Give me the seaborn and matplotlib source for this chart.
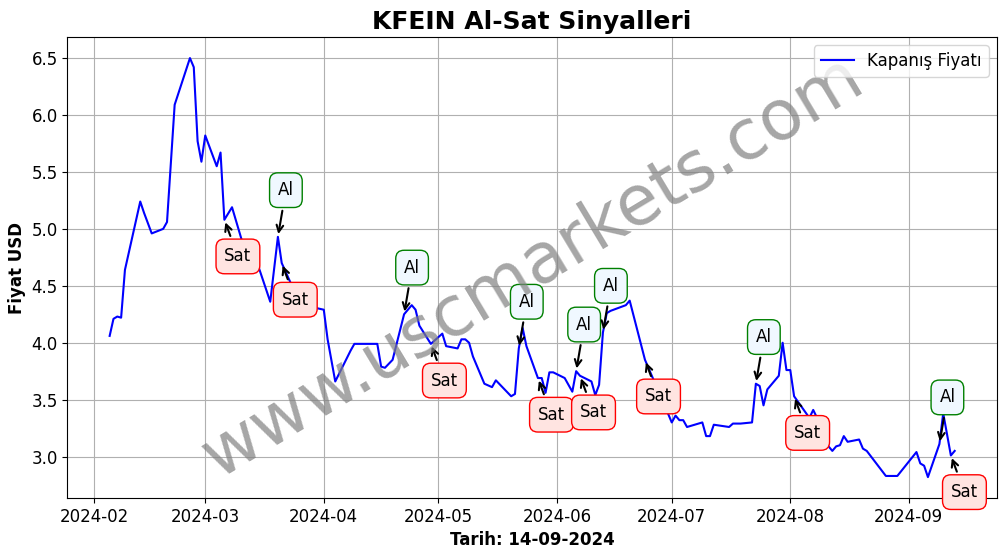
import pandas as pd
import matplotlib
matplotlib.use("Agg")
import matplotlib.pyplot as plt
import seaborn as sns

# Kapanis fiyatlari (grafikten okunan yaklasik degerler)
tarihler = [
    "2024-02-05", "2024-02-06", "2024-02-07", "2024-02-08", "2024-02-09",
    "2024-02-13", "2024-02-14", "2024-02-16", "2024-02-19", "2024-02-20",
    "2024-02-22", "2024-02-26", "2024-02-27", "2024-02-28", "2024-02-29",
    "2024-03-01", "2024-03-04", "2024-03-05", "2024-03-06", "2024-03-08",
    "2024-03-11", "2024-03-14", "2024-03-15", "2024-03-18", "2024-03-20",
    "2024-03-21", "2024-03-25", "2024-03-27", "2024-03-28", "2024-04-01",
    "2024-04-02", "2024-04-04", "2024-04-08", "2024-04-09", "2024-04-15",
    "2024-04-16", "2024-04-17", "2024-04-19", "2024-04-22", "2024-04-24",
    "2024-04-25", "2024-04-26", "2024-04-29", "2024-05-02", "2024-05-03",
    "2024-05-06", "2024-05-07", "2024-05-08", "2024-05-09", "2024-05-10",
    "2024-05-13", "2024-05-15", "2024-05-16", "2024-05-20", "2024-05-21",
    "2024-05-22", "2024-05-23", "2024-05-24", "2024-05-27", "2024-05-28",
    "2024-05-29", "2024-05-30", "2024-05-31", "2024-06-03", "2024-06-05",
    "2024-06-06", "2024-06-07", "2024-06-10", "2024-06-11", "2024-06-12",
    "2024-06-13", "2024-06-14", "2024-06-15", "2024-06-19", "2024-06-20",
    "2024-06-21", "2024-06-24", "2024-06-30", "2024-07-01", "2024-07-02",
    "2024-07-03", "2024-07-04", "2024-07-05", "2024-07-09", "2024-07-10",
    "2024-07-11", "2024-07-12", "2024-07-16", "2024-07-17", "2024-07-18",
    "2024-07-19", "2024-07-22", "2024-07-23", "2024-07-24", "2024-07-25",
    "2024-07-26", "2024-07-29", "2024-07-30", "2024-07-31", "2024-08-01",
    "2024-08-02", "2024-08-06", "2024-08-07", "2024-08-08", "2024-08-11",
    "2024-08-12", "2024-08-13", "2024-08-14", "2024-08-15", "2024-08-16",
    "2024-08-19", "2024-08-20", "2024-08-21", "2024-08-26", "2024-08-29",
    "2024-09-03", "2024-09-04", "2024-09-05", "2024-09-06", "2024-09-09",
    "2024-09-10", "2024-09-12", "2024-09-13",
]
fiyatlar = [
    4.06, 4.21, 4.23, 4.22, 4.64,
    5.24, 5.14, 4.96, 5.00, 5.06,
    6.09, 6.50, 6.42, 5.77, 5.59,
    5.82, 5.55, 5.67, 5.08, 5.19,
    4.85, 4.62, 4.66, 4.36, 4.93,
    4.70, 4.40, 4.24, 4.32, 4.29,
    4.03, 3.66, 3.93, 3.99, 3.99,
    3.79, 3.78, 3.85, 4.25, 4.33,
    4.29, 4.15, 3.99, 4.08, 3.97,
    3.95, 4.03, 4.03, 4.00, 3.88,
    3.64, 3.61, 3.67, 3.53, 3.55,
    3.95, 4.13, 3.97, 3.69, 3.69,
    3.56, 3.74, 3.74, 3.69, 3.57,
    3.75, 3.71, 3.66, 3.54, 3.63,
    4.09, 4.26, 4.28, 4.33, 4.37,
    4.24, 3.85, 3.38, 3.30, 3.36,
    3.32, 3.32, 3.26, 3.30, 3.18,
    3.18, 3.28, 3.26, 3.29, 3.29,
    3.29, 3.30, 3.64, 3.62, 3.45,
    3.59, 3.71, 4.00, 3.76, 3.76,
    3.53, 3.34, 3.41, 3.34, 3.09,
    3.05, 3.09, 3.10, 3.18, 3.13,
    3.15, 3.07, 3.05, 2.83, 2.83,
    3.04, 2.94, 2.92, 2.82, 3.11,
    3.38, 3.01, 3.05,
]

# Al / Sat sinyal tarihleri
al_tarihleri = ["2024-03-20", "2024-04-22", "2024-05-22", "2024-06-06",
                "2024-06-13", "2024-07-23", "2024-09-09"]
sat_tarihleri = ["2024-03-06", "2024-03-21", "2024-04-29", "2024-05-27",
                 "2024-06-07", "2024-06-24", "2024-08-02", "2024-09-12"]

df = pd.DataFrame({"Tarih": pd.to_datetime(tarihler), "Fiyat": fiyatlar})
fiyat_map = dict(zip(tarihler, fiyatlar))

fig, ax = plt.subplots(figsize=(10.06, 5.54), dpi=100)
fig.subplots_adjust(left=0.067, right=0.991, top=0.933, bottom=0.101)

sns.lineplot(data=df, x="Tarih", y="Fiyat", color="blue", linewidth=1.5,
             label="Kapanış Fiyatı", ax=ax)

for t in al_tarihleri:
    ax.annotate("Al", xy=(pd.Timestamp(t), fiyat_map[t]), xytext=(0, 30),
                textcoords="offset points", fontsize=12,
                bbox=dict(boxstyle="round,pad=0.5", fc="aliceblue", ec="green"),
                arrowprops=dict(arrowstyle="->", color="black", lw=1.5))

for t in sat_tarihleri:
    ax.annotate("Sat", xy=(pd.Timestamp(t), fiyat_map[t]), xytext=(0, -30),
                textcoords="offset points", fontsize=12,
                bbox=dict(boxstyle="round,pad=0.5", fc="mistyrose", ec="red"),
                arrowprops=dict(arrowstyle="->", color="black", lw=1.5))

# filigran
ax.text(0.5, 0.5, "www.uscmarkets.com", transform=ax.transAxes,
        fontsize=50, color="gray", alpha=0.7, rotation=31,
        ha="center", va="center")

ax.set_title("KFEIN Al-Sat Sinyalleri", fontsize=18, fontweight="bold")
ax.set_xlabel("Tarih: 14-09-2024", fontsize=12, fontweight="bold")
ax.set_ylabel("Fiyat USD", fontsize=12, fontweight="bold")
ax.tick_params(labelsize=12)
ax.grid(True)
ax.legend(loc="upper right", fontsize=12)

plt.savefig("out.png", dpi=100)
